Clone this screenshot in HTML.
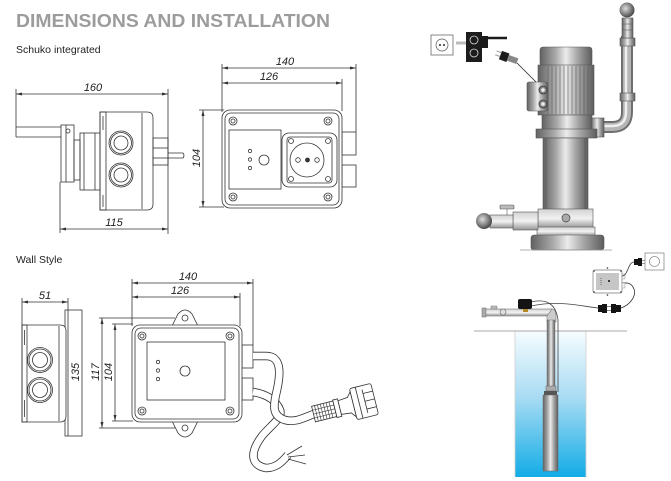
<!DOCTYPE html>
<html><head><meta charset="utf-8"><style>
html,body{margin:0;padding:0;background:#fff;}
svg{display:block;}
text{font-family:"Liberation Sans",sans-serif;}
.d{font-style:italic;font-size:11px;fill:#222;}
</style></head><body>
<svg width="671" height="481" viewBox="0 0 671 481" xmlns="http://www.w3.org/2000/svg">
<defs>
<marker id="a" markerUnits="userSpaceOnUse" markerWidth="6" markerHeight="4" refX="6" refY="2" orient="auto-start-reverse"><path d="M0,0.5 L6,2 L0,3.5 z" fill="#333"/></marker>
<linearGradient id="m" x1="0" x2="1" y1="0" y2="0">
<stop offset="0" stop-color="#626262"/><stop offset="0.3" stop-color="#a9a9a9"/><stop offset="0.5" stop-color="#ececec"/><stop offset="0.72" stop-color="#a6a6a6"/><stop offset="1" stop-color="#5c5c5c"/></linearGradient>
<linearGradient id="mv" x1="0" x2="0" y1="0" y2="1">
<stop offset="0" stop-color="#d2d2d2"/><stop offset="0.5" stop-color="#f2f2f2"/><stop offset="1" stop-color="#959595"/></linearGradient>
<linearGradient id="w" x1="0" x2="0" y1="0" y2="1">
<stop offset="0" stop-color="#f6fcff"/><stop offset="0.45" stop-color="#a9dcf3"/><stop offset="1" stop-color="#12ace6"/></linearGradient>
<radialGradient id="b" cx="0.4" cy="0.4" r="0.6"><stop offset="0" stop-color="#dcdcdc"/><stop offset="1" stop-color="#4a4a4a"/></radialGradient>
</defs>

<text x="16" y="27" font-size="18" font-weight="bold" fill="#9c9c9c" textLength="314" lengthAdjust="spacingAndGlyphs">DIMENSIONS AND INSTALLATION</text>
<text x="16" y="53" font-size="10.5" fill="#222">Schuko integrated</text>
<text x="16" y="263" font-size="10.5" fill="#222">Wall Style</text>

<g stroke="#333" stroke-width="0.8" fill="none">
<!-- ===== Schuko side view ===== -->
<line x1="16" y1="94" x2="168" y2="94" marker-start="url(#a)" marker-end="url(#a)"/>
<line x1="16" y1="89" x2="16" y2="137"/>
<line x1="168" y1="89" x2="168" y2="234"/>
<line x1="16" y1="127" x2="61" y2="127"/>
<line x1="16" y1="137" x2="61" y2="137"/>
<rect x="61" y="125" width="13" height="57" fill="#fff"/>
<line x1="66" y1="125" x2="66" y2="182"/>
<circle cx="68" cy="131" r="2"/>
<rect x="80" y="133" width="22" height="57" fill="#fff"/>
<line x1="84" y1="133" x2="84" y2="190"/>
<line x1="95" y1="133" x2="95" y2="190"/>
<rect x="74" y="140" width="6" height="40"/>
<path d="M100 112 H147 Q153 112 153 118 V204 Q153 210 147 210 H100 Z" fill="#fff"/>
<rect x="100" y="112" width="6" height="98"/>
<line x1="103" y1="116" x2="103" y2="130"/><line x1="103" y1="195" x2="103" y2="207"/>
<circle cx="121" cy="143" r="12"/><circle cx="121" cy="143" r="10.5"/><circle cx="121" cy="143" r="7"/>
<circle cx="121" cy="175" r="12"/><circle cx="121" cy="175" r="10.5"/><circle cx="121" cy="175" r="7"/>
<line x1="142" y1="113" x2="142" y2="209"/>
<rect x="153" y="138" width="15" height="27"/>
<line x1="153" y1="148" x2="168" y2="148"/>
<line x1="153" y1="158" x2="168" y2="158"/>
<path d="M168 153 H183 Q185 155.5 183 158 H168"/>
<line x1="60" y1="182" x2="60" y2="233"/>
<line x1="60" y1="229" x2="168" y2="229" marker-start="url(#a)" marker-end="url(#a)"/>

<!-- ===== Schuko front view ===== -->
<line x1="222" y1="68" x2="356" y2="68" marker-start="url(#a)" marker-end="url(#a)"/>
<line x1="222" y1="83" x2="342" y2="83" marker-start="url(#a)" marker-end="url(#a)"/>
<line x1="222" y1="64" x2="222" y2="112"/>
<line x1="356" y1="64" x2="356" y2="132"/>
<line x1="342" y1="79" x2="342" y2="111"/>
<line x1="203" y1="110" x2="203" y2="207" marker-start="url(#a)" marker-end="url(#a)"/>
<line x1="199" y1="110" x2="224" y2="110"/>
<line x1="199" y1="207" x2="224" y2="207"/>
<rect x="342" y="132" width="14" height="23"/>
<rect x="342" y="165" width="14" height="22"/>
<rect x="222" y="110" width="120" height="98" rx="8" fill="#fff"/>
<rect x="225" y="113" width="114" height="92" rx="6"/>
<circle cx="233" cy="121" r="4"/><circle cx="233" cy="121" r="2"/>
<circle cx="328" cy="121" r="4"/><circle cx="328" cy="121" r="2"/>
<circle cx="233" cy="197" r="4"/><circle cx="233" cy="197" r="2"/>
<circle cx="328" cy="197" r="4"/><circle cx="328" cy="197" r="2"/>
<rect x="229" y="130" width="52" height="59"/>
<circle cx="250" cy="151" r="1.7"/><circle cx="250" cy="159.5" r="1.7"/><circle cx="250" cy="168" r="1.7"/>
<circle cx="264" cy="160" r="5"/>
<rect x="282" y="133" width="55" height="54" rx="7"/>
<rect x="287" y="137" width="45" height="46" rx="3"/>
<circle cx="307" cy="160" r="17"/>
<circle cx="291" cy="141" r="2.5"/><circle cx="328" cy="141" r="2.5"/>
<circle cx="291" cy="179" r="2.5"/><circle cx="328" cy="179" r="2.5"/>
<circle cx="298" cy="160" r="2.3"/><circle cx="317" cy="160" r="2.3"/>
<circle cx="307.5" cy="160" r="2" fill="#333"/>

<!-- ===== Wall side view ===== -->
<line x1="22" y1="302" x2="68" y2="302" marker-start="url(#a)" marker-end="url(#a)"/>
<line x1="22" y1="298" x2="22" y2="326"/>
<line x1="68" y1="298" x2="68" y2="310"/>
<rect x="65" y="310" width="17" height="126" fill="#fff"/>
<line x1="68" y1="310" x2="68" y2="436"/>
<path d="M22 325 H60 Q66 325 66 331 V416 Q66 422 60 422 H22 Z" fill="#fff"/>
<rect x="22" y="325" width="5" height="97"/>
<line x1="24.5" y1="330" x2="24.5" y2="345"/><line x1="24.5" y1="400" x2="24.5" y2="417"/>
<line x1="59" y1="326" x2="59" y2="421"/>
<circle cx="40" cy="360" r="12.5"/><circle cx="40" cy="360" r="11"/><circle cx="40" cy="360" r="7.5"/>
<circle cx="40" cy="390" r="12.5"/><circle cx="40" cy="390" r="11"/><circle cx="40" cy="390" r="7.5"/>

<!-- ===== Wall front view ===== -->
<line x1="132" y1="283" x2="253" y2="283" marker-start="url(#a)" marker-end="url(#a)"/>
<line x1="132" y1="297" x2="240" y2="297" marker-start="url(#a)" marker-end="url(#a)"/>
<line x1="132" y1="279" x2="132" y2="326"/>
<line x1="253" y1="279" x2="253" y2="345"/>
<line x1="240" y1="293" x2="240" y2="326"/>
<line x1="102" y1="318" x2="102" y2="428" marker-start="url(#a)" marker-end="url(#a)"/>
<line x1="115" y1="324" x2="115" y2="421" marker-start="url(#a)" marker-end="url(#a)"/>
<line x1="99" y1="318" x2="175" y2="318"/>
<line x1="99" y1="428" x2="175" y2="428"/>
<line x1="112" y1="324" x2="133" y2="324"/>
<line x1="112" y1="421" x2="133" y2="421"/>
<path d="M172 326 L178 314 Q185 306 192 314 L198 326" fill="#fff"/>
<circle cx="185" cy="318" r="3"/>
<path d="M172 421 L178 433 Q185 441 192 433 L198 421" fill="#fff"/>
<circle cx="185" cy="428" r="3"/>
<rect x="242" y="345" width="11" height="23"/>
<rect x="242" y="378" width="11" height="22"/>
<rect x="132" y="325" width="110" height="97" rx="8" fill="#fff"/>
<rect x="135" y="328" width="104" height="91" rx="6"/>
<circle cx="142" cy="336" r="4"/><circle cx="142" cy="336" r="2"/>
<circle cx="230" cy="336" r="4"/><circle cx="230" cy="336" r="2"/>
<circle cx="142" cy="411" r="4"/><circle cx="142" cy="411" r="2"/>
<circle cx="230" cy="411" r="4"/><circle cx="230" cy="411" r="2"/>
<rect x="147" y="342" width="78" height="58"/>
<circle cx="158" cy="362" r="1.7"/><circle cx="158" cy="370.5" r="1.7"/><circle cx="158" cy="379" r="1.7"/>
<circle cx="185" cy="371" r="5"/>
</g>

<!-- cables wall style -->
<g fill="none" stroke-linecap="butt">
<path d="M253 392 C266 394 276 400 280 410 C283 418 270 426 262 436 C250 452 250 465 266 468 C276 468 282 462 288 455" stroke="#333" stroke-width="8.5"/>
<path d="M253 392 C266 394 276 400 280 410 C283 418 270 426 262 436 C250 452 250 465 266 468 C276 468 282 462 288 455" stroke="#fff" stroke-width="6.8"/>
<path d="M253 356 H266 C281 356 281 372 277 390 C273 406 272 416 285 420 C296 423 305 417 314 414" stroke="#333" stroke-width="8.5"/>
<path d="M253 356 H266 C281 356 281 372 277 390 C273 406 272 416 285 420 C296 423 305 417 314 414" stroke="#fff" stroke-width="6.8"/>
<g stroke="#333" stroke-width="0.8">
<line x1="287" y1="455" x2="302" y2="446"/><line x1="288" y1="457" x2="305" y2="455"/><line x1="288" y1="459" x2="306" y2="464"/>
</g>
</g>
<g transform="rotate(-14 330 410)" stroke="#333" stroke-width="0.8" fill="#fff">
<rect x="313" y="402" width="22" height="16"/>
<g stroke-width="0.6"><line x1="316" y1="402" x2="316" y2="418"/><line x1="319" y1="402" x2="319" y2="418"/><line x1="322" y1="402" x2="322" y2="418"/><line x1="325" y1="402" x2="325" y2="418"/><line x1="328" y1="402" x2="328" y2="418"/><line x1="331" y1="402" x2="331" y2="418"/>
<line x1="313" y1="406" x2="335" y2="406"/><line x1="313" y1="410" x2="335" y2="410"/><line x1="313" y1="414" x2="335" y2="414"/></g>
<rect x="335" y="401" width="5" height="18"/>
<path d="M340 403 L350 402 L354 397 V423 L350 418 L340 417 Z"/>
<rect x="354" y="394" width="22" height="32" rx="2"/>
<line x1="360" y1="394" x2="360" y2="426"/>
<line x1="366" y1="402" x2="376" y2="402"/><line x1="366" y1="410" x2="376" y2="410"/><line x1="366" y1="418" x2="376" y2="418"/>
<line x1="366" y1="398" x2="366" y2="422"/>
</g>

<!-- dimension labels -->
<text class="d" x="93" y="91" text-anchor="middle">160</text>
<text class="d" x="114" y="226" text-anchor="middle">115</text>
<text class="d" x="285" y="65" text-anchor="middle">140</text>
<text class="d" x="269" y="80" text-anchor="middle">126</text>
<text class="d" transform="rotate(-90 200 158)" x="200" y="158" text-anchor="middle">104</text>
<text class="d" x="45" y="299" text-anchor="middle">51</text>
<text class="d" transform="rotate(-90 79 372)" x="79" y="372" text-anchor="middle">135</text>
<text class="d" transform="rotate(-90 99 372)" x="99" y="372" text-anchor="middle">117</text>
<text class="d" transform="rotate(-90 112 372)" x="112" y="372" text-anchor="middle">104</text>
<text class="d" x="188" y="280" text-anchor="middle">140</text>
<text class="d" x="180" y="294" text-anchor="middle">126</text>

<!-- ===== Pump (top right) ===== -->
<g stroke="#555" stroke-width="0.7">
<rect x="431" y="35" width="22" height="20" fill="#fff"/>
<circle cx="442" cy="45" r="6" fill="#fff"/>
<circle cx="440" cy="45" r="0.8" fill="#555"/><circle cx="444" cy="45" r="0.8" fill="#555"/>
</g>
<line x1="456" y1="43" x2="466" y2="43" stroke="#bbb" stroke-width="3"/>
<rect x="466" y="32" width="16" height="30" fill="#1c1c1c"/>
<circle cx="474" cy="40" r="4" fill="#1c1c1c" stroke="#ddd" stroke-width="0.8"/>
<circle cx="474" cy="53" r="4" fill="#1c1c1c" stroke="#ddd" stroke-width="0.8"/>
<rect x="482" y="36" width="6" height="12" fill="#1c1c1c"/>
<line x1="488" y1="38" x2="507" y2="38" stroke="#1c1c1c" stroke-width="2.5"/>
<g transform="rotate(20 510 58)">
<rect x="500" y="54" width="8" height="9" fill="#1c1c1c"/>
<rect x="508" y="55.5" width="10" height="6" fill="#888"/>
<line x1="495" y1="56" x2="500" y2="56" stroke="#aaa" stroke-width="1.2"/><line x1="495" y1="60" x2="500" y2="60" stroke="#aaa" stroke-width="1.2"/>
</g>
<path d="M517 63 L542 88" stroke="#222" stroke-width="0.8" fill="none"/>

<!-- pipe -->
<path d="M600 127 H612 Q627 127 627 112 V36" fill="none" stroke="#6e6e6e" stroke-width="12"/>
<path d="M600 127 H612 Q627 127 627 112 V36" fill="none" stroke="#b5b5b5" stroke-width="8"/>
<path d="M600 126 H612 Q626 126 626 112 V36" fill="none" stroke="#eee" stroke-width="2.5"/>
<rect x="620" y="93" width="15" height="8" fill="url(#m)" stroke="#555" stroke-width="0.6"/>
<rect x="620" y="38" width="15" height="8" fill="url(#m)" stroke="#555" stroke-width="0.6"/>
<rect x="622" y="18" width="11" height="20" fill="url(#m)" stroke="#555" stroke-width="0.6"/>
<line x1="622" y1="24" x2="633" y2="24" stroke="#555" stroke-width="0.5"/><line x1="622" y1="30" x2="633" y2="30" stroke="#555" stroke-width="0.5"/>
<circle cx="627" cy="10" r="7.5" fill="url(#b)"/>

<!-- motor -->
<g stroke="#555" stroke-width="0.6">
<rect x="540" y="47" width="52" height="19" rx="3" fill="url(#m)"/>
<rect x="538" y="65" width="56" height="50" fill="url(#m)"/>
</g>
<g stroke="#5a5a5a" stroke-width="0.6">
<line x1="548" y1="66" x2="548" y2="114"/><line x1="552" y1="66" x2="552" y2="114"/><line x1="556" y1="66" x2="556" y2="114"/><line x1="560" y1="66" x2="560" y2="114"/><line x1="564" y1="66" x2="564" y2="114"/><line x1="568" y1="66" x2="568" y2="114"/><line x1="572" y1="66" x2="572" y2="114"/><line x1="576" y1="66" x2="576" y2="114"/><line x1="580" y1="66" x2="580" y2="114"/><line x1="584" y1="66" x2="584" y2="114"/><line x1="588" y1="66" x2="588" y2="114"/>
</g>
<rect x="527" y="82" width="21" height="29" rx="2" fill="url(#m)" stroke="#555" stroke-width="0.6"/>
<circle cx="543" cy="90" r="4" fill="#888" stroke="#333" stroke-width="0.8"/><circle cx="543" cy="90" r="1.8" fill="#eee"/>
<circle cx="543" cy="104" r="4" fill="#888" stroke="#333" stroke-width="0.8"/><circle cx="543" cy="104" r="1.8" fill="#eee"/>
<g stroke="#555" stroke-width="0.6">
<rect x="590" y="118" width="14" height="19" fill="url(#m)"/>
<rect x="542" y="115" width="50" height="15" fill="url(#m)"/>
<rect x="536" y="129" width="61" height="9" fill="url(#m)"/>
<rect x="543" y="138" width="45" height="72" fill="url(#m)"/>
<line x1="546" y1="138" x2="546" y2="210"/><line x1="585" y1="138" x2="585" y2="210"/>
<rect x="538" y="209" width="55" height="19" fill="url(#mv)"/>
<rect x="537" y="227" width="58" height="9" fill="url(#mv)"/>
<rect x="531" y="235" width="73" height="15" rx="3" fill="url(#m)"/>
</g>
<circle cx="566" cy="218" r="4" fill="#aaa" stroke="#444" stroke-width="0.7"/>
<line x1="520" y1="250" x2="612" y2="250" stroke="#999" stroke-width="0.8"/>
<!-- inlet -->
<g stroke="#555" stroke-width="0.6">
<rect x="513" y="212" width="25" height="18" fill="url(#mv)"/>
<rect x="490" y="215" width="23" height="13" fill="url(#mv)"/>
<rect x="500" y="205" width="14" height="4" rx="1" fill="#bbb"/>
<line x1="507" y1="209" x2="507" y2="215"/>
</g>
<circle cx="484" cy="221" r="8" fill="url(#b)"/>

<!-- ===== Well installation (bottom right) ===== -->
<rect x="515" y="331" width="71" height="146" fill="url(#w)"/>
<line x1="515" y1="331" x2="515" y2="477" stroke="#d0d0d0" stroke-width="0.8"/>
<line x1="586" y1="331" x2="586" y2="477" stroke="#d0d0d0" stroke-width="0.8"/>
<line x1="474" y1="331" x2="627" y2="331" stroke="#a8a8a8" stroke-width="1"/>
<!-- horizontal pipe -->
<rect x="485" y="309" width="67" height="7" fill="url(#mv)" stroke="#777" stroke-width="0.6"/>
<rect x="482" y="308" width="4" height="9" fill="#aaa" stroke="#666" stroke-width="0.5"/>
<circle cx="503" cy="312" r="3" fill="#ddd" stroke="#666" stroke-width="0.6"/>
<rect x="491" y="306" width="6" height="3" fill="#bbb" stroke="#666" stroke-width="0.4"/>
<path d="M552 309 Q556 309 556 316 V322 H547 V316 Z" fill="#ccc" stroke="#777" stroke-width="0.6"/>
<rect x="547" y="320" width="8" height="68" fill="url(#m)" stroke="#777" stroke-width="0.5"/>
<rect x="546" y="386" width="10" height="5" fill="#aaa" stroke="#666" stroke-width="0.5"/>
<rect x="544" y="391" width="13" height="5" fill="#555"/>
<rect x="543" y="395" width="15" height="76" fill="url(#m)" stroke="#666" stroke-width="0.5"/>
<!-- cables -->
<path d="M531 302 C548 298 556 305 558 320 V392" fill="none" stroke="#444" stroke-width="0.8"/>
<path d="M531 306 C560 300 580 306 598 308" fill="none" stroke="#444" stroke-width="0.8"/>
<rect x="518" y="299" width="14" height="10" rx="2" fill="#141414"/>
<rect x="523" y="309" width="5" height="3" fill="#b38a2a"/>
<!-- connectors -->
<g fill="#141414">
<rect x="598" y="305" width="4" height="7"/><rect x="602" y="304" width="5" height="9"/>
<rect x="611" y="304" width="5" height="9"/><rect x="616" y="305" width="5" height="7"/>
</g>
<line x1="607" y1="306.5" x2="611" y2="306.5" stroke="#888" stroke-width="1"/><line x1="607" y1="310.5" x2="611" y2="310.5" stroke="#888" stroke-width="1"/>
<path d="M621 308 C630 305 638 295 633 287 C630 282 626 283 622 283" fill="none" stroke="#333" stroke-width="0.8"/>
<!-- control box -->
<rect x="593" y="270" width="29" height="23" rx="2" fill="#fff" stroke="#777" stroke-width="0.7"/>
<rect x="596" y="273" width="23" height="17" fill="#c6c6c6"/>
<circle cx="609" cy="281" r="1" fill="#111"/>
<line x1="601" y1="278" x2="601" y2="285" stroke="#333" stroke-width="0.6" stroke-dasharray="1 1"/>
<circle cx="594" cy="271" r="0.8" fill="#333"/><circle cx="621" cy="271" r="0.8" fill="#333"/><circle cx="594" cy="292" r="0.8" fill="#333"/><circle cx="621" cy="292" r="0.8" fill="#333"/>
<circle cx="607.5" cy="268" r="0.8" fill="#333"/><circle cx="607.5" cy="295" r="0.8" fill="#333"/>
<rect x="622" y="274" width="3" height="5" fill="#eee" stroke="#888" stroke-width="0.4"/><rect x="622" y="283" width="3" height="5" fill="#eee" stroke="#888" stroke-width="0.4"/>
<path d="M622 276 C628 276 628 262 634 262" fill="none" stroke="#333" stroke-width="0.8"/>
<rect x="634" y="259" width="4" height="6" fill="#141414"/><rect x="638" y="258" width="4" height="8" fill="#141414"/>
<line x1="642" y1="260.5" x2="645" y2="260.5" stroke="#888" stroke-width="0.8"/><line x1="642" y1="263.5" x2="645" y2="263.5" stroke="#888" stroke-width="0.8"/>
<rect x="645" y="253" width="19" height="17" fill="#fff" stroke="#666" stroke-width="0.6"/>
<circle cx="654.5" cy="261.5" r="5" fill="#fff" stroke="#666" stroke-width="0.6"/>
</svg>
</body></html>
